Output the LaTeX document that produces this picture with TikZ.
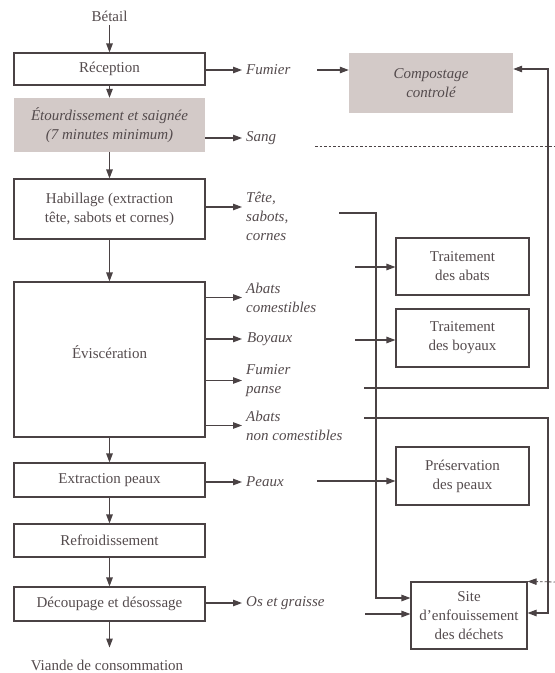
\documentclass[tikz,border=0pt]{standalone}
\usepackage{fontspec}
\setmainfont{Liberation Serif}
\usetikzlibrary{arrows.meta}
\definecolor{ln}{HTML}{4A4244}
\definecolor{tx}{HTML}{544B4D}
\definecolor{fl}{HTML}{D3CAC8}
\begin{document}
\begin{tikzpicture}[x=1pt,y=-1pt,
  every node/.style={text=tx, font=\fontsize{15}{19}\selectfont},
  box/.style={draw=ln, line width=1.1pt, minimum width=191pt, inner sep=0pt, align=center},
  gbox/.style={fill=fl, inner sep=0pt, align=center, font=\fontsize{15}{19}\selectfont\itshape},
  rbox/.style={draw=ln, line width=1.1pt, inner sep=0pt, align=center},
  lbl/.style={anchor=west, inner xsep=4pt, inner ysep=0pt, align=left, font=\fontsize{15}{19}\selectfont\itshape},
  arr/.style={draw=ln, line width=1.1pt, -{Triangle[length=9pt,width=6.5pt]}},
  ln/.style={draw=ln, line width=1.1pt}]
\useasboundingbox (0,0) rectangle (555,673);
% left column
\node (bet) at (109.5,16) {Bétail};
\node[box, minimum height=32pt] (rec) at (109.5,69) {Réception};
\node[gbox, minimum width=191pt, minimum height=54pt] (eto) at (109.5,125) {Étourdissement et saignée\\(7 minutes minimum)};
\node[box, minimum height=60pt] (hab) at (109.5,209) {Habillage (extraction\\tête, sabots et cornes)};
\node[box, minimum height=155pt] (evi) at (109.5,359.5) {};
\node (evit) at (109.5,352) {Éviscération};
\node[box, minimum height=34pt] (ext) at (109.5,480) {Extraction peaux};
\node[box, minimum height=33pt] (ref) at (109.5,540.5) {Refroidissement};
\node[box, minimum height=34pt] (dec) at (109.5,604) {Découpage et désossage};
\node[anchor=base, inner sep=0pt] (via) at (107,670.5) {Viande de consommation};
\draw[arr] (bet.south) -- (rec.north);
\draw[arr] (rec.south) -- (eto.north);
\draw[arr] (eto.south) -- (hab.north);
\draw[arr] (hab.south) -- (evi.north);
\draw[arr] (evi.south) -- (ext.north);
\draw[arr] (ext.south) -- (ref.north);
\draw[arr] (ref.south) -- (dec.north);
\draw[arr] (dec.south) -- ++(0,26) coordinate (viaend);
% labels
\node[lbl] (fum) at (242,70) {Fumier};
\node[lbl] (san) at (242,138) {Sang};
\node[lbl] (tet) at (242,216.5) {Tête,\\sabots,\\cornes};
\node[lbl] (abc) at (242,297.5) {Abats\\comestibles};
\node[lbl] (boy) at (243,339) {Boyaux};
\node[lbl] (fpa) at (242,380.5) {Fumier\\panse};
\node[lbl] (anc) at (242,425.5) {Abats\\non comestibles};
\node[lbl] (pea) at (242,482) {Peaux};
\node[lbl] (os) at (242,603) {Os et graisse};
\draw[arr] (rec.east |- fum.west) -- (fum.west);
\draw[arr] (eto.east |- san.west) -- (san.west);
\draw[arr] (hab.east |- 0,207) -- (tet.west |- 0,207);
\draw[arr] (evi.east |- abc.west) -- (abc.west);
\draw[arr] (evi.east |- boy.west) -- ([xshift=-1pt]boy.west);
\draw[arr] (evi.east |- fpa.west) -- (fpa.west);
\draw[arr] (evi.east |- anc.west) -- (anc.west);
\draw[arr] (ext.east |- pea.west) -- (pea.west);
\draw[arr] (dec.east |- os.west) -- (os.west);
% right column
\node[gbox, minimum width=164pt, minimum height=60pt] (com) at (431,83) {Compostage\\controlé};
\node[rbox, minimum width=133pt, minimum height=57pt] (tab) at (462.5,266.5) {Traitement\\des abats};
\node[rbox, minimum width=133pt, minimum height=58pt] (tby) at (462.5,338) {Traitement\\des boyaux};
\node[rbox, minimum width=133pt, minimum height=58pt] (pre) at (462.5,476) {Préservation\\des peaux};
\node[rbox, minimum width=116pt, minimum height=67pt] (sit) at (469,615.5) {Site\\d’enfouissement\\des déchets};
% free ends
\coordinate (fumout) at (317,70);
\coordinate (dashA) at (315,146);
\coordinate (dashB) at (556,146);
\coordinate (dashC) at (556,582);
\coordinate (tetout) at (339,213);
\coordinate (abcout) at (355,267);
\coordinate (boyout) at (355,340);
\coordinate (fpaout) at (364,388);
\coordinate (ancout) at (364,418);
\coordinate (peaout) at (317,481);
\coordinate (osout) at (365,614);
\draw[arr] (fumout) -- (com.west |- fumout);
\draw[ln, line width=0.8pt, dash pattern=on 2.5pt off 2pt] (dashA) -- (dashB);
\draw[arr, dash pattern=on 2.5pt off 2pt, line width=0.8pt] (dashC) -- (sit.north east);
\draw[arr] (tetout) -- (376,213) -- (376,598) -- (sit.west |- 0,598);
\draw[arr] (abcout) -- (tab.west |- abcout);
\draw[arr] (boyout) -- (tby.west |- boyout);
\draw[arr] (fpaout) -- (548,388) -- (548,69) -- (com.east |- 0,69);
\draw[arr] (ancout) -- (548,418) -- (548,613) -- (sit.east |- 0,613);
\draw[arr] (peaout) -- (pre.west |- peaout);
\draw[arr] (osout) -- (sit.west |- osout);
\end{tikzpicture}
\end{document}
